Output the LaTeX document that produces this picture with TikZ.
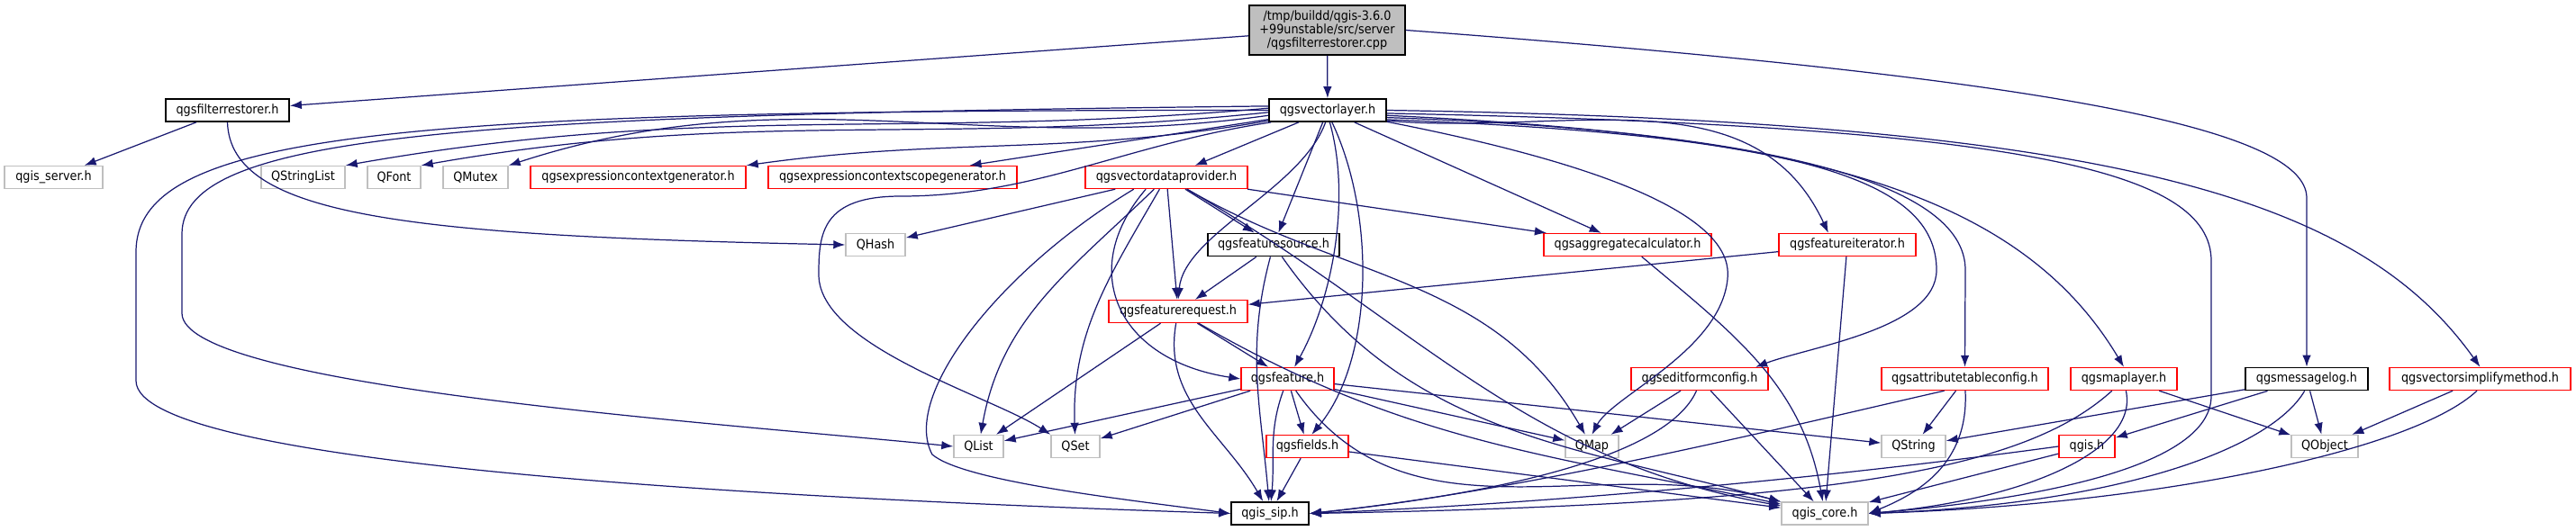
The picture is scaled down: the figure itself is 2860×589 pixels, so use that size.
\documentclass[tikz,border=0pt]{standalone}
\usepackage{fontspec}
\setmainfont{DejaVu Sans Condensed}
\usetikzlibrary{arrows.meta}
\definecolor{edgeblue}{RGB}{25,25,112}
\definecolor{boxgray}{RGB}{191,191,191}
\tikzset{
  file/.style={draw, fill=white, line width=0.8pt, minimum height=0.5cm, inner sep=0pt,
    font=\fontsize{8.1}{8.6}\selectfont},
  doc/.style={file, draw=black, line width=1pt},
  part/.style={file, draw=red},
  ext/.style={file, draw=boxgray},
  bw/.style={minimum width=#1*0.02cm},
  dep/.style={draw=edgeblue, line width=0.7pt, -{Latex[length=0.26cm,width=0.19cm]}}
}
\begin{document}
\begin{tikzpicture}[x=0.02cm,y=-0.02cm]
    \useasboundingbox (0,0) rectangle (2860,589);

    \node[doc, fill=boxgray, bw=173, minimum height=1.1cm, align=center] (root) at (1473.5,33.5)
        {/tmp/buildd/qgis-3.6.0\\+99unstable/src/server\\/qgsfilterrestorer.cpp};

    \node[doc, bw=137] (filt) at (252.5,122.5) {qgsfilterrestorer.h};
    \node[doc, bw=130] (vlayer) at (1474,122.5) {qgsvectorlayer.h};

    \node[ext, bw=109] (server) at (59.5,197) {qgis\_server.h};
    \node[ext, bw=93] (qstrlist) at (336.5,197) {QStringList};
    \node[ext, bw=59] (qfont) at (437.5,197) {QFont};
    \node[ext, bw=72] (qmutex) at (528,197) {QMutex};
    \node[part, bw=239] (exprgen) at (708.5,197) {qgsexpressioncontextgenerator.h};
    \node[part, bw=276] (scopegen) at (991,197) {qgsexpressioncontextscopegenerator.h};
    \node[part, bw=180] (vdprov) at (1295,197) {qgsvectordataprovider.h};

    \node[ext, bw=66] (qhash) at (972,272) {QHash};
    \node[doc, bw=146] (fsource) at (1414,272) {qgsfeaturesource.h};
    \node[part, bw=186] (aggcalc) at (1807,272) {qgsaggregatecalculator.h};
    \node[part, bw=152] (fiter) at (2051,272) {qgsfeatureiterator.h};

    \node[part, bw=154] (freq) at (1308,346) {qgsfeaturerequest.h};

    \node[part, bw=103] (feat) at (1429.5,421) {qgsfeature.h};
    \node[part, bw=152] (editcfg) at (1887,421) {qgseditformconfig.h};
    \node[part, bw=185] (attrcfg) at (2181.5,421) {qgsattributetableconfig.h};
    \node[part, bw=118] (mlayer) at (2358,421) {qgsmaplayer.h};
    \node[doc, bw=136] (msglog) at (2561,421) {qgsmessagelog.h};
    \node[part, bw=201] (simplify) at (2753.5,421) {qgsvectorsimplifymethod.h};

    \node[ext, bw=55] (qlist) at (1086.5,496) {QList};
    \node[ext, bw=54] (qset) at (1194,496) {QSet};
    \node[part, bw=91] (fields) at (1451.5,496) {qgsfields.h};
    \node[ext, bw=59] (qmap) at (1767.5,496) {QMap};
    \node[ext, bw=71] (qstring) at (2124.5,496) {QString};
    \node[part, bw=62] (qgish) at (2317,496) {qgis.h};
    \node[ext, bw=74] (qobject) at (2581,496) {QObject};

    \node[doc, bw=86] (sip) at (1410,570.5) {qgis\_sip.h};
    \node[ext, bw=96] (core) at (2026,570.5) {qgis\_core.h};

    % root file
    \draw[dep] (root) -- (filt);
    \draw[dep] (root) -- (vlayer);
    \draw[dep] (root.east) .. controls (2250,85) and (2561,140) .. (2561,220) -- (msglog.north);

    \draw[dep] (filt) -- (server);
    \draw[dep] (filt.south) .. controls (256,240) and (450,262) .. (qhash.west);

    % qgsvectorlayer.h, to the left
    \draw[dep] (vlayer.178) to[out=185,in=10] (qstrlist.north east);
    \draw[dep] (vlayer.182) to[out=186,in=10] (qfont.north east);
    \draw[dep] (vlayer.185) to[out=188,in=18] (qmutex.north east);
    \draw[dep] (vlayer.190) to[out=190,in=8] (exprgen.north east);
    \draw[dep] (vlayer) -- (scopegen);
    \draw[dep] (vlayer.176) .. controls (500,128) and (202,150) .. (202,260) -- (202,348)
        .. controls (202,430) and (800,470) .. (qlist.west);
    \draw[dep] (vlayer.180) .. controls (450,122) and (151,145) .. (151,280) -- (151,423)
        .. controls (151,520) and (900,555) .. (sip.west);
    \draw[dep] (vlayer.192) .. controls (1250,160) and (1150,218) .. (1000,218)
        .. controls (912,218) and (909,260) .. (909,305)
        .. controls (909,385) and (1100,440) .. (qset.north west);

    % qgsvectorlayer.h, downwards
    \draw[dep] (vlayer) -- (vdprov);
    \draw[dep] (vlayer) -- (fsource);
    \draw[dep] (vlayer.-100) .. controls (1445,210) and (1315,260) .. (freq.north);
    \draw[dep] (vlayer.-80) .. controls (1500,220) and (1480,330) .. (feat.60);
    \draw[dep] (vlayer.-70) .. controls (1528,240) and (1525,400) .. (fields.70);
    \draw[dep] (vlayer) -- (aggcalc);

    % qgsvectorlayer.h, to the right
    \draw[dep] (vlayer.-11) .. controls (1820,190) and (1925,250) .. (1918,310)
        .. controls (1910,390) and (1790,440) .. (qmap.north);
    \draw[dep] (vlayer.-10) to[out=-5,in=115] (fiter.148);
    \draw[dep] (vlayer.-9) .. controls (2000,150) and (2150,200) .. (2150,300)
        .. controls (2150,365) and (2010,385) .. (editcfg.12);
    \draw[dep] (vlayer.-7) .. controls (1950,145) and (2182,200) .. (2182,300) -- (attrcfg.north);
    \draw[dep] (vlayer.-5) .. controls (2000,150) and (2240,210) .. (mlayer.north);
    \draw[dep] (vlayer.-3) .. controls (2250,140) and (2455,190) .. (2455,290) -- (2455,440)
        .. controls (2455,530) and (2200,560) .. (core.east);
    \draw[dep] (vlayer.east) .. controls (2350,135) and (2620,220) .. (simplify.north);

    % qgsvectordataprovider.h
    \draw[dep] (vdprov) -- (qhash);
    \draw[dep] (vdprov) -- (fsource);
    \draw[dep] (vdprov) -- (freq);
    \draw[dep] (vdprov) -- (aggcalc);
    \draw[dep] (vdprov) to[out=-136,in=80] (qlist);
    \draw[dep] (vdprov) to[out=-120,in=92] (qset);
    \draw[dep] (vdprov.-150) .. controls (1195,300) and (1240,400) .. (feat.west);
    \draw[dep] (vdprov.-160) .. controls (1110,300) and (1000,440) .. (1035,505)
        .. controls (1070,535) and (1250,555) .. (sip.west);
    \draw[dep] (vdprov) to[out=-30,in=120] (qmap);
    \draw[dep] (vdprov) to[out=-30,in=170] (core);

    \draw[dep] (fsource) -- (freq);
    \draw[dep] (fsource) to[out=-105,in=95] (sip);
    \draw[dep] (fsource) to[out=-55,in=165] (core);

    \draw[dep] (freq) -- (feat);
    \draw[dep] (freq) -- (qlist);
    \draw[dep] (freq) to[out=-100,in=120] (sip);
    \draw[dep] (freq) to[out=-30,in=168] (core);

    \draw[dep] (feat) -- (qlist);
    \draw[dep] (feat) -- (qset);
    \draw[dep] (feat) to[out=-110,in=85] (sip);
    \draw[dep] (feat) -- (fields);
    \draw[dep] (feat) to[out=-55,in=165] (core);
    \draw[dep] (feat) -- (qmap);
    \draw[dep] (feat) -- (qstring);

    \draw[dep] (fields) -- (sip);
    \draw[dep] (fields) -- (core);

    \draw[dep] (aggcalc) to[out=-40,in=100] (core);
    \draw[dep] (fiter) -- (freq);
    \draw[dep] (fiter) -- (core);

    \draw[dep] (editcfg) -- (qmap);
    \draw[dep] (editcfg.-105) .. controls (1850,510) and (1650,550) .. (sip.east);
    \draw[dep] (editcfg) -- (core);
    \draw[dep] (attrcfg) -- (qstring);
    \draw[dep] (attrcfg.-88) .. controls (2186,515) and (2130,548) .. (core.east);
    \draw[dep] (attrcfg.-150) .. controls (2000,470) and (1700,545) .. (sip.east);
    \draw[dep] (mlayer.-135) .. controls (2250,520) and (2050,560) .. (sip.east);
    \draw[dep] (mlayer.-80) .. controls (2375,500) and (2250,555) .. (core.east);
    \draw[dep] (mlayer) -- (qobject);

    \draw[dep] (qgish.west) .. controls (2000,535) and (1700,560) .. (sip.east);
    \draw[dep] (qgish) -- (core);
    \draw[dep] (msglog) -- (qstring);
    \draw[dep] (msglog) -- (qgish);
    \draw[dep] (msglog.-100) .. controls (2520,500) and (2350,560) .. (core.east);
    \draw[dep] (msglog) -- (qobject);
    \draw[dep] (simplify) -- (qobject);
    \draw[dep] (simplify.-105) .. controls (2680,500) and (2400,560) .. (core.east);
\end{tikzpicture}
\end{document}
